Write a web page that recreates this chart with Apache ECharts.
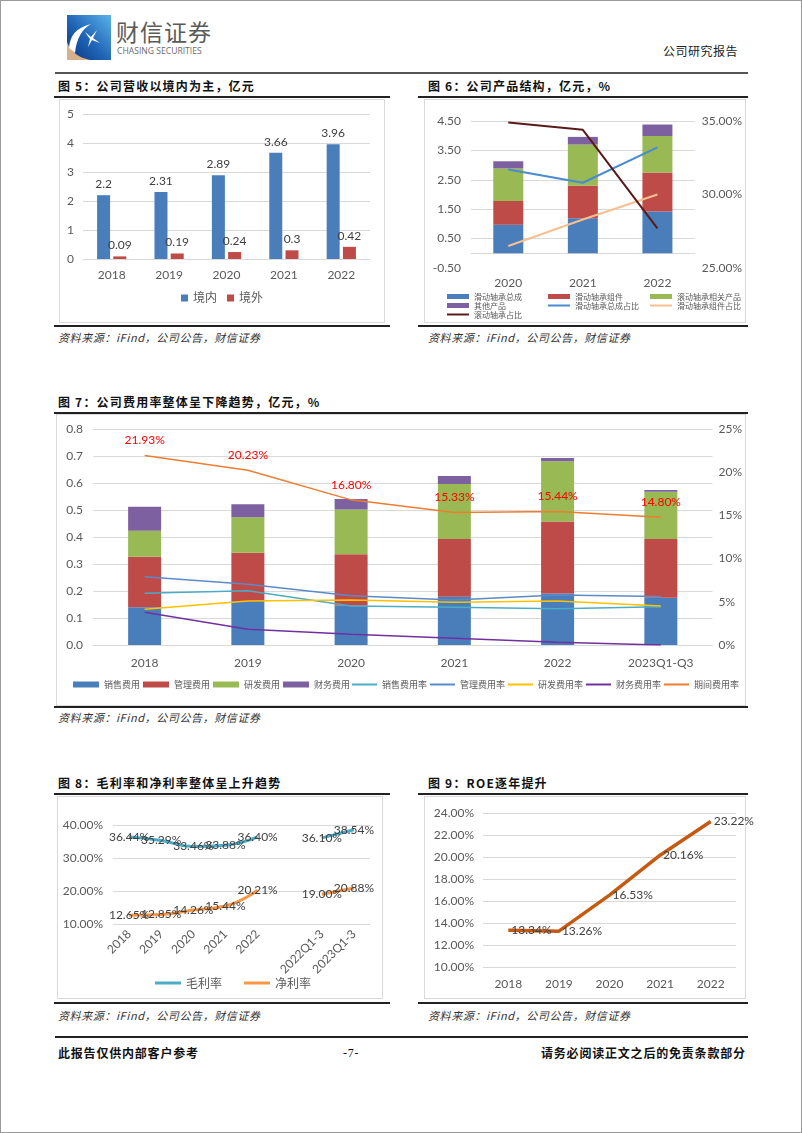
<!DOCTYPE html>
<html>
<head>
<meta charset="utf-8">
<script src="https://cdn.jsdelivr.net/npm/echarts@6/dist/echarts.min.js"></script>
<style>
  html, body { margin: 0; padding: 0; background: #fff; }
  body { width: 802px; height: 1133px; position: relative; overflow: hidden; font-family: "Noto Sans CJK SC", sans-serif; }
  .abs { position: absolute; }
  .pageborder { position: absolute; left: 0; top: 0; width: 800px; height: 1131px; border: 1px solid #9a9a9a; }
  .rule { position: absolute; background: #222; }
  .title { position: absolute; font-size: 12px; font-weight: bold; color: #111; letter-spacing: 1.2px; white-space: nowrap; line-height: 14px; }
  .src { position: absolute; font-size: 11px; font-style: italic; color: #333; letter-spacing: 0.6px; white-space: nowrap; line-height: 13px; }
  .frame { position: absolute; border: 1px solid #d9d9d9; box-sizing: border-box; }
  .foot { position: absolute; font-size: 12px; font-weight: bold; color: #111; white-space: nowrap; line-height: 14px; letter-spacing: 0.8px; }
</style>
</head>
<body>
<div class="pageborder"></div>

<!-- header -->
<svg class="abs" style="left:66px;top:15px" width="46" height="46" viewBox="0 0 46 46">
  <defs>
    <linearGradient id="lg" x1="1" y1="0" x2="0" y2="1">
      <stop offset="0" stop-color="#5bb2ea"/>
      <stop offset="0.55" stop-color="#1f63b5"/>
      <stop offset="1" stop-color="#0b3580"/>
    </linearGradient>
  </defs>
  <rect x="1" y="0" width="44" height="45" fill="url(#lg)"/>
  <path d="M1 45 L1 27 Q6 41 24 45 Z" fill="#d8b08a"/>
  <path d="M3 33 Q4 14 25 9 Q11 17 9 38 Z" fill="#ffffff"/>
  <path d="M19 17 L25 22 L31 15 L27 23 L34 28 L26 25 L22 32 L24 24 Z" fill="#ffffff"/>
</svg>
<div class="abs" style="left:116px;top:17px;font-size:23px;color:#5a5a5a;letter-spacing:1px;line-height:28px;">财信证券</div>
<div class="abs" style="left:117px;top:46px;font-size:8.6px;color:#6a6a6a;line-height:10px;font-family:'Open Sans',sans-serif;">CHASING SECURITIES</div>
<div class="abs" style="left:663px;top:44px;font-size:12px;color:#222;letter-spacing:0.5px;line-height:14px;">公司研究报告</div>
<div class="rule" style="left:55px;top:72px;width:693px;height:2px;background:#555;"></div>

<!-- fig 5 & 6 titles -->
<div class="title" style="left:58px;top:79px;">图 5：公司营收以境内为主，亿元</div>
<div class="rule" style="left:54px;top:96px;width:336px;height:1.5px;"></div>
<div class="title" style="left:428px;top:79px;">图 6：公司产品结构，亿元，%</div>
<div class="rule" style="left:418px;top:96px;width:330px;height:1.5px;"></div>

<div class="frame" style="left:59px;top:99px;width:326px;height:224px;"></div>
<div id="c5" class="abs" style="left:60px;top:100px;width:324px;height:222px;"></div>
<div class="frame" style="left:424px;top:99px;width:322px;height:224px;"></div>
<div id="c6" class="abs" style="left:425px;top:100px;width:320px;height:222px;"></div>

<div class="rule" style="left:54px;top:325px;width:336px;height:2px;"></div>
<div class="rule" style="left:418px;top:325px;width:330px;height:2px;"></div>
<div class="src" style="left:58px;top:331px;">资料来源：iFind，公司公告，财信证券</div>
<div class="src" style="left:428px;top:331px;">资料来源：iFind，公司公告，财信证券</div>

<!-- fig 7 -->
<div class="title" style="left:58px;top:395px;">图 7：公司费用率整体呈下降趋势，亿元，%</div>
<div class="rule" style="left:54px;top:412px;width:694px;height:1.5px;"></div>
<div class="frame" style="left:56px;top:414px;width:690px;height:292px;"></div>
<div id="c7" class="abs" style="left:57px;top:415px;width:688px;height:290px;"></div>
<div class="rule" style="left:54px;top:706px;width:694px;height:2px;"></div>
<div class="src" style="left:58px;top:711px;">资料来源：iFind，公司公告，财信证券</div>

<!-- fig 8 & 9 -->
<div class="title" style="left:58px;top:776px;">图 8：毛利率和净利率整体呈上升趋势</div>
<div class="rule" style="left:54px;top:793px;width:336px;height:1.5px;"></div>
<div class="title" style="left:428px;top:776px;">图 9：ROE逐年提升</div>
<div class="rule" style="left:418px;top:793px;width:330px;height:1.5px;"></div>

<div class="frame" style="left:57px;top:796px;width:326px;height:203px;"></div>
<div id="c8" class="abs" style="left:58px;top:797px;width:324px;height:201px;"></div>
<div class="frame" style="left:424px;top:796px;width:322px;height:203px;"></div>
<div id="c9" class="abs" style="left:425px;top:797px;width:340px;height:201px;"></div>

<div class="rule" style="left:54px;top:1002px;width:336px;height:2px;"></div>
<div class="rule" style="left:418px;top:1002px;width:330px;height:2px;"></div>
<div class="src" style="left:58px;top:1009px;">资料来源：iFind，公司公告，财信证券</div>
<div class="src" style="left:428px;top:1009px;">资料来源：iFind，公司公告，财信证券</div>

<!-- footer -->
<div class="rule" style="left:55px;top:1036px;width:693px;height:2px;"></div>
<div class="foot" style="left:58px;top:1046px;">此报告仅供内部客户参考</div>
<div class="foot" style="left:343px;top:1046px;font-weight:normal;font-family:'Liberation Serif',serif;">-7-</div>
<div class="foot" style="left:541px;top:1046px;">请务必阅读正文之后的免责条款部分</div>

<script>
// ---------------- data ----------------
const fig5Years = ['2018', '2019', '2020', '2021', '2022'];
const fig5Domestic = [2.2, 2.31, 2.89, 3.66, 3.96];
const fig5Overseas = [0.09, 0.19, 0.24, 0.3, 0.42];

const fig6Years = ['2020', '2021', '2022'];
const fig6SlideAssembly = [0.97, 1.19, 1.42];
const fig6SlideParts = [0.81, 1.11, 1.33];
const fig6RollingProducts = [1.11, 1.40, 1.24];
const fig6Other = [0.24, 0.26, 0.39];
const fig6SlideAssemblyShare = [31.7, 30.8, 33.2];
const fig6SlidePartsShare = [26.5, 28.3, 30.0];
const fig6RollingShare = [34.9, 34.4, 27.7];

const fig7Cats = ['2018', '2019', '2020', '2021', '2022', '2023Q1-Q3'];
const fig7Sales = [0.140, 0.163, 0.146, 0.179, 0.191, 0.175];
const fig7Admin = [0.187, 0.179, 0.190, 0.214, 0.266, 0.218];
const fig7RD = [0.096, 0.131, 0.166, 0.203, 0.224, 0.175];
const fig7Fin = [0.089, 0.048, 0.039, 0.030, 0.012, 0.006];
const fig7SalesRate = [5.98, 6.29, 4.51, 4.36, 4.20, 4.44];
const fig7AdminRate = [7.90, 7.02, 5.71, 5.21, 5.79, 5.60];
const fig7RDRate = [4.13, 5.09, 5.20, 4.94, 5.09, 4.50];
const fig7FinRate = [3.78, 1.81, 1.23, 0.78, 0.31, 0.00];
const fig7PeriodRate = [21.93, 20.23, 16.80, 15.33, 15.44, 14.80];

const fig8Cats = ['2018', '2019', '2020', '2021', '2022', '', '2022Q1-3', '2023Q1-3'];
const fig8Gross = [36.44, 35.29, 33.46, 33.88, 36.40, null, 36.10, 38.54];
const fig8Net = [12.65, 12.85, 14.26, 15.44, 20.21, null, 19.00, 20.88];

const fig9Years = ['2018', '2019', '2020', '2021', '2022'];
const fig9ROE = [13.34, 13.26, 16.53, 20.16, 23.22];

// ---------------- common ----------------
const FONT = "Lato, 'Noto Sans CJK SC', sans-serif";
const CJK = "'Noto Sans CJK SC', sans-serif";
const AX = '#595959';
const GRID = '#d9d9d9';
const LBL = '#404040';
const pct2 = p => p.value.toFixed(2) + '%';

// ---------------- fig 5 ----------------
echarts.init(document.getElementById('c5')).setOption({
  animation: false,
  textStyle: { fontFamily: FONT },
  grid: { left: 23, right: 14, top: 14, bottom: 63 },
  legend: {
    bottom: 13, left: 'center', icon: 'rect', itemWidth: 7, itemHeight: 7, itemGap: 10,
    textStyle: { color: AX, fontSize: 12, fontFamily: FONT }
  },
  xAxis: {
    type: 'category', data: fig5Years,
    axisLine: { lineStyle: { color: GRID } }, axisTick: { show: false },
    axisLabel: { color: AX, fontSize: 12, margin: 10 }
  },
  yAxis: {
    type: 'value', min: 0, max: 5, interval: 1,
    axisLine: { show: false }, axisTick: { show: false },
    axisLabel: { color: AX, fontSize: 12, margin: 9 },
    splitLine: { lineStyle: { color: GRID } }
  },
  series: [
    { name: '境内', type: 'bar', data: fig5Domestic, barWidth: 13, barGap: '25%',
      itemStyle: { color: '#4a7ebb' },
      label: { show: true, position: 'top', distance: 5, color: LBL, fontSize: 12 } },
    { name: '境外', type: 'bar', data: fig5Overseas, barWidth: 13,
      itemStyle: { color: '#be4b48' },
      label: { show: true, position: 'top', distance: 5, color: LBL, fontSize: 12 } }
  ]
});

// ---------------- fig 6 ----------------
const lg6 = (left, top, names, isLine) => ({
  orient: 'vertical', left: left, top: top, padding: 0, itemGap: 0, itemWidth: 22,
  itemHeight: isLine ? 2 : 5, icon: 'rect',
  textStyle: { color: AX, fontSize: 8, lineHeight: 9, fontFamily: CJK },
  data: names
});
echarts.init(document.getElementById('c6')).setOption({
  animation: false,
  textStyle: { fontFamily: FONT },
  grid: { left: 46, right: 49, top: 21, bottom: 54 },
  legend: [
    lg6(22, 192, ['滑动轴承总成', '其他产品'], false),
    lg6(22, 210, ['滚动轴承占比'], true),
    lg6(123, 192, ['滑动轴承组件'], false),
    lg6(123, 201, ['滑动轴承总成占比'], true),
    lg6(225, 192, ['滚动轴承相关产品'], false),
    lg6(225, 201, ['滑动轴承组件占比'], true)
  ],
  xAxis: {
    type: 'category', data: fig6Years,
    axisLine: { onZero: true, lineStyle: { color: GRID } }, axisTick: { show: false },
    axisLabel: { color: AX, fontSize: 12, margin: 9 }
  },
  yAxis: [
    { type: 'value', min: -0.5, max: 4.5, interval: 1,
      axisLine: { show: false }, axisTick: { show: false },
      axisLabel: { color: AX, fontSize: 12, margin: 10, formatter: v => v.toFixed(2) },
      splitLine: { lineStyle: { color: ['rgba(0,0,0,0)', GRID, GRID, GRID, GRID, GRID] } } },
    { type: 'value', min: 25, max: 35, interval: 5, position: 'right',
      axisLine: { show: false }, axisTick: { show: false }, splitLine: { show: false },
      axisLabel: { color: AX, fontSize: 12, margin: 7, formatter: v => v.toFixed(2) + '%' } }
  ],
  series: [
    { name: '滑动轴承总成', type: 'bar', stack: 's', data: fig6SlideAssembly, barWidth: 30, itemStyle: { color: '#4a7ebb' } },
    { name: '滑动轴承组件', type: 'bar', stack: 's', data: fig6SlideParts, itemStyle: { color: '#be4b48' } },
    { name: '滚动轴承相关产品', type: 'bar', stack: 's', data: fig6RollingProducts, itemStyle: { color: '#98b954' } },
    { name: '其他产品', type: 'bar', stack: 's', data: fig6Other, itemStyle: { color: '#7d60a0' } },
    { name: '滑动轴承总成占比', type: 'line', yAxisIndex: 1, data: fig6SlideAssemblyShare, symbol: 'none',
      lineStyle: { color: '#4a8ad0', width: 2 }, itemStyle: { color: '#4a8ad0' } },
    { name: '滑动轴承组件占比', type: 'line', yAxisIndex: 1, data: fig6SlidePartsShare, symbol: 'none',
      lineStyle: { color: '#f9bf8f', width: 2 }, itemStyle: { color: '#f9bf8f' } },
    { name: '滚动轴承占比', type: 'line', yAxisIndex: 1, data: fig6RollingShare, symbol: 'none',
      lineStyle: { color: '#5a1a1a', width: 2 }, itemStyle: { color: '#5a1a1a' } }
  ]
});

// ---------------- fig 7 ----------------
const barNames7 = ['销售费用', '管理费用', '研发费用', '财务费用'];
const lineNames7 = ['销售费用率', '管理费用率', '研发费用率', '财务费用率', '期间费用率'];
echarts.init(document.getElementById('c7')).setOption({
  animation: false,
  textStyle: { fontFamily: FONT },
  grid: { left: 36, right: 28, top: 14, bottom: 60 },
  legend: [
    { left: 16, top: 265, padding: 0, itemGap: 3, itemWidth: 26, itemHeight: 6, icon: 'rect',
      textStyle: { color: AX, fontSize: 9, fontFamily: CJK }, data: barNames7 },
    { left: 295, right: 0, top: 265, padding: 0, itemGap: 3, itemWidth: 25, itemHeight: 2, icon: 'rect',
      textStyle: { color: AX, fontSize: 9, fontFamily: CJK }, data: lineNames7 }
  ],
  xAxis: {
    type: 'category', data: fig7Cats,
    axisLine: { lineStyle: { color: GRID } }, axisTick: { show: false },
    axisLabel: { color: AX, fontSize: 12, margin: 12 }
  },
  yAxis: [
    { type: 'value', min: 0, max: 0.8, interval: 0.1,
      axisLine: { show: false }, axisTick: { show: false },
      axisLabel: { color: AX, fontSize: 12, margin: 10, formatter: v => v.toFixed(1) },
      splitLine: { lineStyle: { color: GRID } } },
    { type: 'value', min: 0, max: 25, interval: 5, position: 'right',
      axisLine: { show: false }, axisTick: { show: false }, splitLine: { show: false },
      axisLabel: { color: AX, fontSize: 12, margin: 6, formatter: v => v + '%' } }
  ],
  series: [
    { name: '销售费用', type: 'bar', stack: 'e', data: fig7Sales, barWidth: 33, itemStyle: { color: '#4a7ebb' } },
    { name: '管理费用', type: 'bar', stack: 'e', data: fig7Admin, itemStyle: { color: '#be4b48' } },
    { name: '研发费用', type: 'bar', stack: 'e', data: fig7RD, itemStyle: { color: '#98b954' } },
    { name: '财务费用', type: 'bar', stack: 'e', data: fig7Fin, itemStyle: { color: '#7d60a0' } },
    { name: '销售费用率', type: 'line', yAxisIndex: 1, data: fig7SalesRate, symbol: 'none',
      lineStyle: { color: '#4bacc6', width: 1.5 }, itemStyle: { color: '#4bacc6' } },
    { name: '管理费用率', type: 'line', yAxisIndex: 1, data: fig7AdminRate, symbol: 'none',
      lineStyle: { color: '#5b8ac8', width: 1.5 }, itemStyle: { color: '#5b8ac8' } },
    { name: '研发费用率', type: 'line', yAxisIndex: 1, data: fig7RDRate, symbol: 'none',
      lineStyle: { color: '#ffc000', width: 1.5 }, itemStyle: { color: '#ffc000' } },
    { name: '财务费用率', type: 'line', yAxisIndex: 1, data: fig7FinRate, symbol: 'none',
      lineStyle: { color: '#7030a0', width: 1.5 }, itemStyle: { color: '#7030a0' } },
    { name: '期间费用率', type: 'line', yAxisIndex: 1, data: fig7PeriodRate, symbol: 'circle', symbolSize: 0,
      lineStyle: { color: '#ed7d31', width: 1.5 }, itemStyle: { color: '#ed7d31' },
      label: { show: true, position: 'top', distance: 9, color: '#ff0000', fontSize: 12, formatter: pct2 } }
  ]
});

// ---------------- fig 8 ----------------
echarts.init(document.getElementById('c8')).setOption({
  animation: false,
  textStyle: { fontFamily: FONT },
  grid: { left: 55, right: 12, top: 28, bottom: 74 },
  legend: {
    left: 97, top: 180, padding: 0, itemGap: 22, itemWidth: 26, itemHeight: 3, icon: 'rect',
    textStyle: { color: AX, fontSize: 12, fontFamily: CJK }
  },
  xAxis: {
    type: 'category', data: fig8Cats,
    axisLine: { show: false }, axisTick: { show: false },
    axisLabel: { color: AX, fontSize: 12, rotate: 45, margin: 8, interval: 0 }
  },
  yAxis: {
    type: 'value', min: 10, max: 40, interval: 10,
    axisLine: { show: false }, axisTick: { show: false },
    axisLabel: { color: AX, fontSize: 12, margin: 10, formatter: v => v.toFixed(2) + '%' },
    splitLine: { lineStyle: { color: GRID } }
  },
  series: [
    { name: '毛利率', type: 'line', data: fig8Gross, smooth: true, symbol: 'circle', symbolSize: 0, connectNulls: false,
      lineStyle: { color: '#4bacc6', width: 3 }, itemStyle: { color: '#4bacc6' },
      label: { show: true, position: 'inside', color: LBL, fontSize: 12, formatter: pct2 } },
    { name: '净利率', type: 'line', data: fig8Net, smooth: true, symbol: 'circle', symbolSize: 0, connectNulls: false,
      lineStyle: { color: '#f79646', width: 3 }, itemStyle: { color: '#f79646' },
      label: { show: true, position: 'inside', color: LBL, fontSize: 12, formatter: pct2 } }
  ]
});

// ---------------- fig 9 ----------------
echarts.init(document.getElementById('c9')).setOption({
  animation: false,
  textStyle: { fontFamily: FONT },
  grid: { left: 58, right: 29, top: 16, bottom: 31 },
  xAxis: {
    type: 'category', data: fig9Years,
    axisLine: { show: false }, axisTick: { show: false },
    axisLabel: { color: AX, fontSize: 12, margin: 11 }
  },
  yAxis: {
    type: 'value', min: 10, max: 24, interval: 2,
    axisLine: { show: false }, axisTick: { show: false },
    axisLabel: { color: AX, fontSize: 12, margin: 9, formatter: v => v.toFixed(2) + '%' },
    splitLine: { lineStyle: { color: GRID } }
  },
  series: [
    { name: 'ROE', type: 'line', data: fig9ROE, symbol: 'circle', symbolSize: 0,
      lineStyle: { color: '#c55a11', width: 3.5 }, itemStyle: { color: '#c55a11' },
      label: { show: true, position: 'right', distance: 3, color: LBL, fontSize: 12, formatter: pct2 } }
  ]
});
</script>
</body>
</html>
